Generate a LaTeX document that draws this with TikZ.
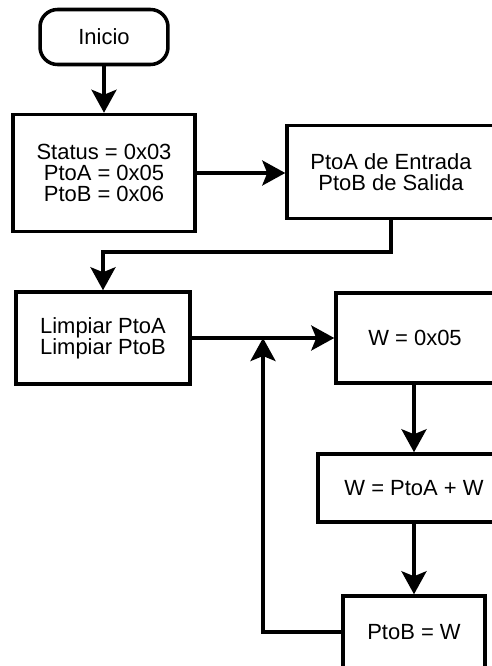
\documentclass[tikz,border=0pt]{standalone}
\usepackage{fontspec}
\setmainfont{Liberation Sans}
\usetikzlibrary{arrows.meta,positioning}
\tikzset{
  proc/.style={draw, line width=2pt, align=center, inner sep=2pt,
    font=\fontsize{12.5}{11.8}\selectfont},
  flow/.style={line width=2pt, -{Stealth[length=0.46cm,width=0.5cm,inset=0.1cm]}},
}
\begin{document}
\begin{tikzpicture}[x=0.02cm, y=-0.02cm]
  \useasboundingbox (0,0) rectangle (491,666);
  \node[proc, rounded corners=0.35cm, minimum width=2.56cm, minimum height=1.1cm] (inicio) at (104,37) {Inicio};
  \node[proc, minimum width=3.64cm, minimum height=2.34cm] (status) at (104,173) {Status = 0x03\\PtoA = 0x05\\PtoB = 0x06};
  \node[proc, minimum width=4.16cm, minimum height=1.86cm] (ptoa) at (391,172) {PtoA de Entrada\\PtoB de Salida};
  \node[proc, minimum width=3.48cm, minimum height=1.84cm] (limpiar) at (103,338) {Limpiar PtoA\\Limpiar PtoB};
  \node[proc, minimum width=3.16cm, minimum height=1.8cm] (w05) at (415,338) {W = 0x05};
  \node[proc, minimum width=3.84cm, minimum height=1.36cm] (wsum) at (414,488) {W = PtoA + W};
  \node[proc, minimum width=2.84cm, minimum height=1.44cm] (ptob) at (414,632) {PtoB = W};
  \coordinate (lazo) at (263,338);
  \draw[flow] (inicio) -- (status);
  \draw[flow] (status.east) -- (status.east -| ptoa.west);
  \draw[flow] (ptoa.south) -- ++(0,32) -| (limpiar.north);
  \draw[flow] (limpiar) -- (w05);
  \draw[flow] (w05.south -| wsum.north) -- (wsum);
  \draw[flow] (wsum) -- (ptob);
  \draw[flow] (ptob.west) -| (lazo);
\end{tikzpicture}
\end{document}
